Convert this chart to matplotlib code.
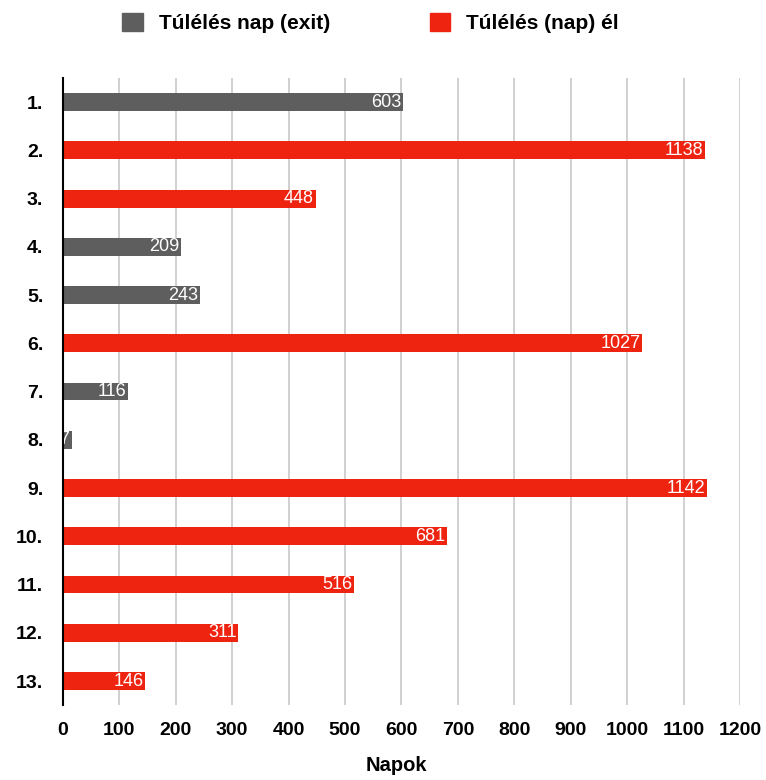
import matplotlib
matplotlib.use("Agg")
import matplotlib.pyplot as plt
from matplotlib.patches import Patch

plt.rcParams['font.family'] = ['Liberation Sans', 'DejaVu Sans']

# rangsor, napok, és hogy él-e még
helyek = ["1.", "2.", "3.", "4.", "5.", "6.", "7.", "8.", "9.", "10.", "11.", "12.", "13."]
napok = [603, 1138, 448, 209, 243, 1027, 116, 17, 1142, 681, 516, 311, 146]
el_meg = [False, True, True, False, False, True, False, False, True, True, True, True, True]

SZURKE = "#5e5e5e"
PIROS = "#ee2410"

fig = plt.figure(figsize=(7.66, 7.8), dpi=100)
ax = fig.add_axes([0.082, 0.096, 0.884, 0.804])

y = list(range(len(helyek)))
szinek = [PIROS if e else SZURKE for e in el_meg]
oszlopok = ax.barh(y, napok, height=0.37, color=szinek, zorder=3)

# értékek a sávok végén, fehérrel
for o, n in zip(oszlopok, napok):
    t = ax.text(n - 3, o.get_y() + o.get_height() / 2, str(n), color="white",
                ha="right", va="center", fontsize=13, zorder=4)
    t.set_clip_path(o)

ax.set_xlim(0, 1200)
ax.set_ylim(12.5, -0.5)
ax.set_xticks(range(0, 1201, 100))
ax.set_yticks(y)
ax.set_yticklabels(helyek)
for lbl in ax.get_xticklabels() + ax.get_yticklabels():
    lbl.set_fontweight("bold")
    lbl.set_fontsize(14)

ax.grid(axis="x", color="#c8c8c8", linewidth=1.2, zorder=0)
ax.tick_params(axis="both", length=0)
ax.tick_params(axis="x", pad=12)
ax.tick_params(axis="y", pad=14)
for s in ["top", "right", "bottom"]:
    ax.spines[s].set_visible(False)
ax.spines["left"].set_color("black")
ax.spines["left"].set_linewidth(1.5)
ax.spines["left"].set_zorder(5)

fig.text(0.518, 0.006, "Napok", fontsize=14.5, fontweight="bold", ha="center", va="bottom")

fig.legend(handles=[Patch(color=SZURKE, label="Túlélés nap (exit)"),
                    Patch(color=PIROS, label="Túlélés (nap) él")],
           loc="upper center", bbox_to_anchor=(0.484, 1.008), ncol=2, frameon=False,
           prop={"weight": "bold", "size": 15}, handlelength=1.0, handleheight=1.0,
           columnspacing=4.75, handletextpad=0.77)

fig.savefig("out.png", dpi=100, facecolor="white")
